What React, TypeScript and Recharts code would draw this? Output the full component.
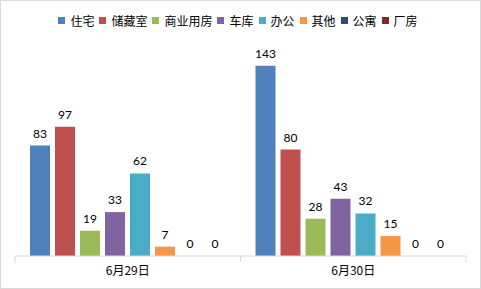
import { BarChart, Bar, XAxis, YAxis, Legend, LabelList, Rectangle } from 'recharts';

const categories = ['6月29日', '6月30日'];
const seriesNames = ['住宅', '储藏室', '商业用房', '车库', '办公', '其他', '公寓', '厂房'];
const zhuzhai = [83, 143];
const chucangshi = [97, 80];
const shangye = [19, 28];
const cheku = [33, 43];
const bangong = [62, 32];
const qita = [7, 15];
const gongyu = [0, 0];
const changfang = [0, 0];
const seriesValues = [zhuzhai, chucangshi, shangye, cheku, bangong, qita, gongyu, changfang];
const colors = ['#4F81BD', '#C0504D', '#9BBB59', '#8064A2', '#4BACC6', '#F79646', '#2C4D75', '#772C2A'];

const data = categories.map((name, i) => {
  const row: Record<string, string | number> = { name };
  seriesNames.forEach((s, j) => { row[s] = seriesValues[j][i]; });
  return row;
});

const numFont = "Lato, 'Noto Sans CJK SC', sans-serif";
const cjkFont = "'Noto Sans CJK SC', sans-serif";

// legend in series order (recharts sorts its own payload)
const renderLegend = () => (
  <div style={{ height: 31, display: 'flex', justifyContent: 'center', alignItems: 'flex-start' }}>
    <div style={{ display: 'flex', alignItems: 'center', height: 17, fontFamily: cjkFont, fontSize: 12, color: '#000' }}>
      {seriesNames.map((s, j) => (
        <span key={s} style={{ display: 'flex', alignItems: 'center', marginRight: 5 }}>
          <span style={{ width: 7, height: 7, background: colors[j], marginRight: 5, display: 'inline-block' }} />
          {s}
        </span>
      ))}
    </div>
  </div>
);

const CategoryTick = (props: any) => {
  const { x, y, payload, index, visibleTicksCount, width } = props;
  const half = payload.offset || width / visibleTicksCount / 2;
  return (
    <g>
      <line x1={x - half} x2={x - half} y1={y} y2={y + 6} stroke="#D9D9D9" />
      {index === visibleTicksCount - 1 && (
        <line x1={x + half} x2={x + half} y1={y} y2={y + 6} stroke="#D9D9D9" />
      )}
      <text x={x} y={y + 19} textAnchor="middle" fill="#000" fontSize={12} fontFamily={cjkFont}>
        {payload.value}
      </text>
    </g>
  );
};

// zero values get a hairline min size so their "0" label is kept, but no visible bar
const BarShape = (props: any) => (props.value === 0 ? <g /> : <Rectangle {...props} />);

export default function App() {
  return (
    <div style={{ position: 'absolute', left: 0, top: 0, width: 481, height: 289, background: '#fff' }}>
      <BarChart
        width={481}
        height={289}
        data={data}
        margin={{ top: 12, right: 15, bottom: 3, left: 15 }}
        barSize={20}
        barGap={5}
      >
        <XAxis
          dataKey="name"
          height={30}
          axisLine={{ stroke: '#D9D9D9' }}
          tickLine={false}
          tickSize={0}
          tickMargin={0}
          tick={<CategoryTick />}
          interval={0}
        />
        <YAxis hide domain={[0, 160]} />
        <Legend verticalAlign="top" content={renderLegend} />
        {seriesNames.map((s, j) => (
          <Bar
            key={s}
            dataKey={s}
            fill={colors[j]}
            isAnimationActive={false}
            minPointSize={(v: number) => (v === 0 ? 0.01 : 0)}
            shape={<BarShape />}
          >
            <LabelList dataKey={s} position="top" offset={8} fill="#000" fontSize={12} fontFamily={numFont} />
          </Bar>
        ))}
      </BarChart>
      <div style={{ position: 'absolute', left: 0, top: 0, width: 481, height: 289, boxSizing: 'border-box', border: '1px solid #D9D9D9', pointerEvents: 'none' }} />
    </div>
  );
}
